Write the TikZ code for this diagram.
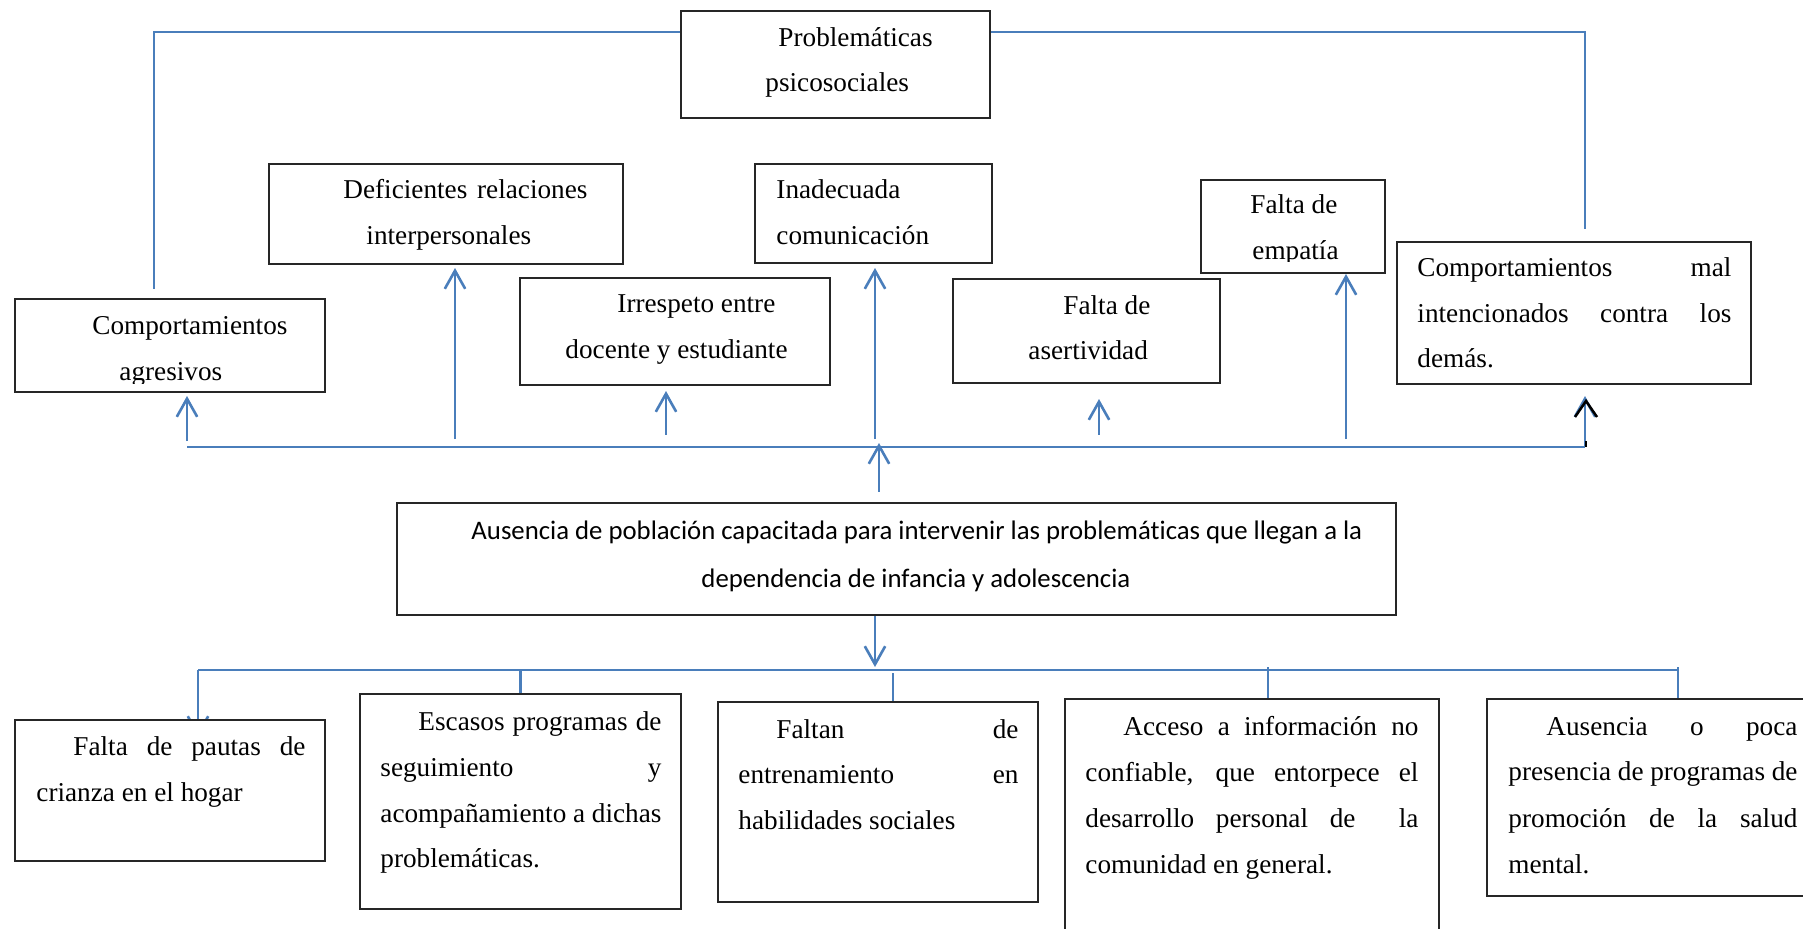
\documentclass[tikz,border=0pt]{standalone}
\usepackage{fontspec}
\setmainfont{Liberation Serif}
\newfontfamily\calfont[Ligatures=NoCommon]{Carlito}
\usetikzlibrary{arrows.meta,fit}
\newlength\pxu \setlength\pxu{0.441pt}
\newcommand\jl[2]{\makebox[#1\pxu][s]{#2}}
\definecolor{lblue}{HTML}{4A7EBB}
\pgfdeclarelayer{back}\pgfdeclarelayer{bg}\pgfsetlayers{back,bg,main}
\begin{document}
\begin{tikzpicture}[x=0.441pt,y=-0.441pt,
  box/.style={draw=black!85, line width=0.9pt, fill=white, inner sep=0pt},
  txt/.style={inner sep=0pt, anchor=base west, font=\fontsize{12}{14}\selectfont},
  ctxt/.style={inner sep=0pt, anchor=base west, font=\calfont\fontsize{11.8}{14}\selectfont},
  link/.style={draw=lblue, line width=1.15pt},
  arr/.style={link, -{Straight Barb[length=8pt,width=9pt]}},
  gap/.style={shorten >=#1\pxu},
]
\clip (0,0) rectangle (1803,929);
\begin{pgfonlayer}{back}
\fill[white] (0,0) rectangle (1803,929);
\end{pgfonlayer}

% boxes
\node[box, fit={(681,11) (990,118)}] (prob) {};
\node[box, fit={(15,299) (325,392)}] (agr) {};
\node[box, fit={(269,164) (623,264)}] (def) {};
\node[box, fit={(520,278) (830,385)}] (irr) {};
\node[box, fit={(755,164) (992,263)}] (ina) {};
\node[box, fit={(953,279) (1220,383)}] (ase) {};
\node[box, fit={(1201,180) (1385,273)}] (emp) {};
\node[box, fit={(1397,242) (1751,384)}] (mal) {};
\node[box, fit={(397,503) (1396,615)}] (aus) {};
\node[box, fit={(15,720) (325,861)}] (pau) {};
\node[box, fit={(360,694) (681,909)}] (esc) {};
\node[box, fit={(718,702) (1038,902)}] (fal) {};
\node[box, fit={(1065,699) (1439,960)}] (acc) {};
\node[box, fit={(1487,699) (1840,896)}] (apo) {};

% coordinates
\coordinate (ttl) at (154,32);
\coordinate (tl) at (154,289);
\coordinate (ttr) at (1585,32);
\coordinate (tr) at (1585,229);
\coordinate (hl) at (187,447);
\coordinate (hr) at (1585,447);
\coordinate (u1) at (187,441);
\coordinate (u2) at (455,439);
\coordinate (u3) at (666,435);
\coordinate (u4) at (875,439);
\coordinate (u5) at (1099,435);
\coordinate (u6) at (1346,439);
\coordinate (cx) at (879,443);
\coordinate (dx) at (875,667);
\coordinate (ll) at (198,670);
\coordinate (lr) at (1678,670);
\coordinate (pin) at (198,737);
\coordinate (d3) at (893,673);
\coordinate (d4) at (1268,667);
\coordinate (d5) at (1678,667);

\begin{pgfonlayer}{bg}
\draw[link] (prob.west |- ttl) -- (ttl) -- (tl);
\draw[link] (prob.east |- ttr) -- (ttr) -- (tr);
\draw[link] (hl) -- (hr);
\draw[arr, gap=3] (u1) -- (u1 |- agr.south);
\draw[arr, gap=3] (u2) -- (u2 |- def.south);
\draw[arr, gap=5] (u3) -- (u3 |- irr.south);
\draw[arr, gap=4] (u4) -- (u4 |- ina.south);
\draw[arr, gap=15] (u5) -- (u5 |- ase.south);
\draw[arr] (u6) -- (u6 |- emp.south);
\draw[arr, gap=11] (hr) -- (hr |- mal.south);
\draw[arr, shorten <=10\pxu] (aus.north -| cx) -- (cx);
\draw[arr] (aus.south -| dx) -- (dx);
\draw[link] (ll) -- (lr);
\draw[arr] (ll) -- (pin);
\draw[link] (esc.north |- ll) -- (esc.north);
\draw[link] (d3) -- (d3 |- fal.north);
\draw[link] (d4) -- (d4 |- acc.north);
\draw[link] (d5) -- (d5 |- apo.north);
\end{pgfonlayer}

\draw[black, line width=1.1pt] (1575,417) -- (1586,401) -- (1597,417);
\draw[black, line width=1.1pt] (1586,441) -- (1586,447);

% texts
\node[txt] (t1a) at (778,47) {Problemáticas};
\node[txt] (t1b) at (765,92) {psicosociales};
\node[txt] (t2a) at (343,199) {\jl{244}{Deficientes relaciones}};
\node[txt] (t2b) at (366,245) {interpersonales};
\node[txt] (t3a) at (776,199) {Inadecuada};
\node[txt] (t3b) at (776,245) {comunicación};
\begin{scope}
\clip (15,299) rectangle (325,384);
\node[txt] (t4a) at (92,335) {Comportamientos};
\node[txt] (t4b) at (119,381) {agresivos};
\end{scope}
\node[txt] (t5a) at (617,313) {Irrespeto entre};
\node[txt] (t5b) at (565,359) {docente y estudiante};
\node[txt] (t6a) at (1063,315) {Falta de};
\node[txt] (t6b) at (1028,360) {asertividad};
\begin{scope}
\clip (1201,180) rectangle (1385,262);
\node[txt] (t7a) at (1250,214) {Falta de};
\node[txt] (t7b) at (1252,260) {empatía};
\end{scope}
\node[txt] (t8a) at (1417,277) {\jl{314}{Comportamientos mal}};
\node[txt] (t8b) at (1417,323) {\jl{314}{intencionados contra los}};
\node[txt] (t8c) at (1417,368) {demás.};
\node[ctxt] (t9a) at (471,539) {Ausencia de población capacitada para intervenir las problemáticas que llegan a la};
\node[ctxt] (t9b) at (701,587) {dependencia de infancia y adolescencia};
\node[txt] (t10a) at (73,755) {\jl{232}{Falta de pautas de}};
\node[txt] (t10b) at (36,801) {crianza en el hogar};
\node[txt] (t11a) at (418,730) {\jl{243}{Escasos programas de}};
\node[txt] (t11b) at (380,776) {\jl{281}{seguimiento y}};
\node[txt] (t11c) at (380,822) {\jl{281}{acompañamiento a dichas}};
\node[txt] (t11d) at (380,867) {problemáticas.};
\node[txt] (t12a) at (776,738) {\jl{242}{Faltan de}};
\node[txt] (t12b) at (738,783) {\jl{280}{entrenamiento en}};
\node[txt] (t12c) at (738,829) {habilidades sociales};
\node[txt] (t13a) at (1123,735) {\jl{295}{Acceso a información no}};
\node[txt] (t13b) at (1085,781) {\jl{333}{confiable, que entorpece el}};
\node[txt] (t13c) at (1085,827) {\jl{333}{desarrollo personal de\ \ la}};
\node[txt] (t13d) at (1085,873) {comunidad en general.};
\node[txt] (t14a) at (1546,735) {\jl{251}{Ausencia o poca}};
\node[txt] (t14b) at (1508,780) {\jl{289}{presencia de programas de}};
\node[txt] (t14c) at (1508,827) {\jl{289}{promoción de la salud}};
\node[txt] (t14d) at (1508,873) {mental.};
\end{tikzpicture}
\end{document}
